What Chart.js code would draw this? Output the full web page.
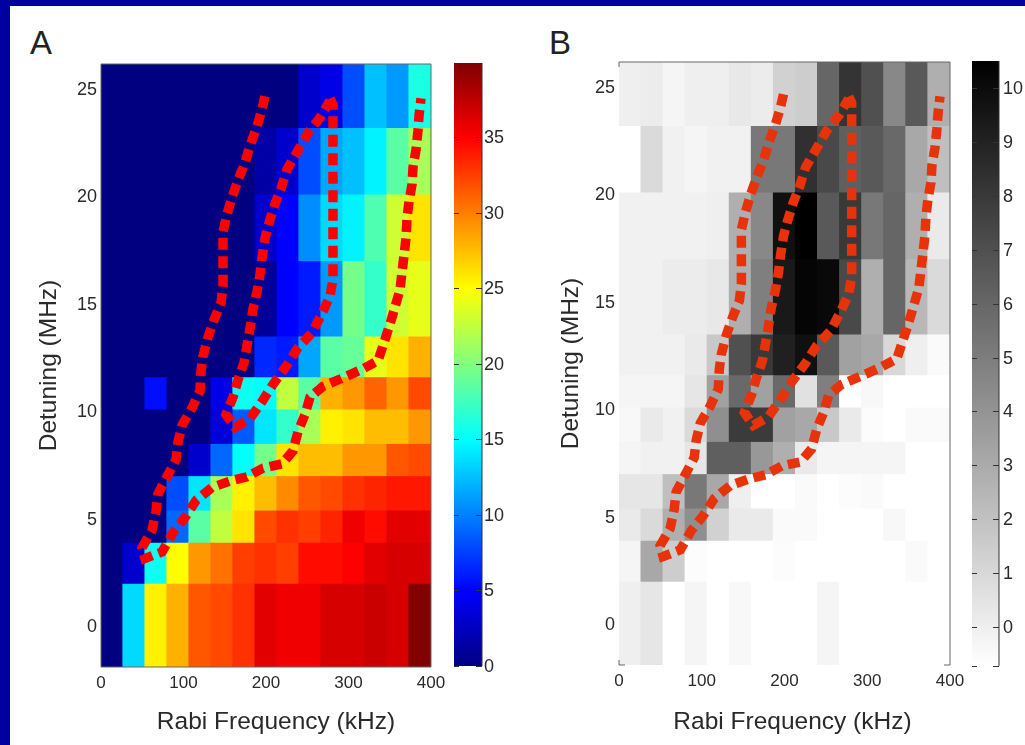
<!DOCTYPE html>
<html>
<head>
<meta charset="utf-8">
<title>Rabi Frequency vs Detuning</title>
<script src="https://cdn.jsdelivr.net/npm/chart.js@4/dist/chart.umd.min.js"></script>
<style>
  html, body { margin: 0; padding: 0; background: #0000a0; overflow: hidden; }
  #page { position: absolute; left: 10px; top: 6px; width: 1015px; height: 739px; background: #fff; }
  .box { position: absolute; }
  canvas { filter: blur(0.5px); }
  .panel-letter { position: absolute; font: 33px "Liberation Sans", Arial, sans-serif; color: #222; }
</style>
</head>
<body>
<div id="page"></div>
<div class="panel-letter" style="left:30px;top:24px">A</div>
<div class="panel-letter" style="left:549px;top:24px">B</div>
<div class="box" style="left:35px;top:50px;width:415px;height:695px"><canvas id="mapA"></canvas></div>
<div class="box" style="left:445px;top:50px;width:70px;height:695px"><canvas id="barA"></canvas></div>
<div class="box" style="left:557px;top:50px;width:411px;height:695px"><canvas id="mapB"></canvas></div>
<div class="box" style="left:965px;top:50px;width:60px;height:695px"><canvas id="barB"></canvas></div>
<script>
// column centres in kHz, 15 columns over 0-400
var rabiCentres = [13.3, 40, 66.7, 93.3, 120, 146.7, 173.3, 200, 226.7, 253.3, 280, 306.7, 333.3, 360, 386.7];
// row edges in MHz (rows are not evenly spaced)
var detuningEdges = [-1.95, 1.9, 3.8, 5.3, 6.9, 8.4, 10, 11.5, 13.4, 16.9, 20, 23.1, 26.1];

var rabiTicks = [0, 100, 200, 300, 400];
var detuningTicks = [0, 5, 10, 15, 20, 25];
var barTicksA = [0, 5, 10, 15, 20, 25, 30, 35];
var barTicksB = [-0.72, 0, 1, 2, 3, 4, 5, 6, 7, 8, 9, 10];

// panel A, bottom row first
var rowA0  = [0, 13.5, 25.5, 28, 31.5, 32, 33, 36, 35.5, 35.5, 36.5, 36.5, 37, 36.5, 39.8];
var rowA1  = [0, 3, 15.5, 25, 29, 30.5, 32.5, 33, 32.5, 34.5, 34.5, 35, 36, 36.5, 36.5];
var rowA2  = [0, 0, 0, 9, 18.5, 22.5, 26, 32, 33, 32.5, 33.5, 35.5, 34.5, 36, 36];
var rowA3  = [0, 0, 0, 8, 14, 21.5, 25.5, 27.5, 29.5, 31.5, 32, 33, 33.5, 34, 34];
var rowA4  = [0, 0, 0, 0, 3, 9, 15, 19.5, 26, 27.5, 27.5, 29, 29, 31.5, 32];
var rowA5  = [0, 0, 0, 0, 0, 3.5, 8.5, 14, 17, 21.5, 25.5, 26, 27.5, 27.5, 29];
var rowA6  = [0, 0, 5.5, 0, 0, 4, 15.5, 15, 22.5, 18.5, 28, 29, 31, 29, 32];
var rowA7  = [0, 0, 0, 0, 0, 0, 0, 6.5, 6, 11.5, 18.5, 19, 24, 26, 28];
var rowA8  = [0, 0, 0, 0, 0, 0, 0, 1, 5, 6, 11, 19.5, 17, 23, 24];
var rowA9  = [0, 0, 0, 0, 0, 0, 0, 3, 5, 10.5, 13.5, 14.5, 18, 23, 26];
var rowA10 = [0, 0, 0, 0, 0, 0, 0, 1.5, 3, 8, 11.5, 12.5, 14.5, 18.5, 21.5];
var rowA11 = [0, 0, 0, 0, 0, 0, 0, 0, 0, 3, 4, 8, 12.5, 11, 16];
var valuesA = [rowA0, rowA1, rowA2, rowA3, rowA4, rowA5, rowA6, rowA7, rowA8, rowA9, rowA10, rowA11];

// panel B, bottom row first
var rowB0  = [0, 0.4, -0.7, -0.3, -0.7, -0.4, -0.7, -0.7, -0.7, -0.3, -0.7, -0.7, -0.7, -0.7, -0.7];
var rowB1  = [-0.3, 3.1, 1.5, -0.6, -0.7, -0.7, -0.7, -0.6, -0.7, -0.7, -0.7, -0.7, -0.7, -0.5, -0.7];
var rowB2  = [0.2, 0.9, 2.8, 4.2, 1.3, 0.2, 0.2, -0.5, -0.5, -0.7, -0.7, -0.7, -0.4, -0.7, -0.7];
var rowB3  = [0.4, 0.4, 2.1, 5.2, 3.1, 0, -0.7, -0.7, -0.5, -0.7, -0.6, -0.5, -0.7, -0.7, -0.7];
var rowB4  = [-0.3, -0.1, -0.1, 0.4, 6.3, 6.3, 3.8, 2.8, 0.2, -0.3, -0.3, -0.3, -0.3, -0.7, -0.7];
var rowB5  = [-0.4, 0.2, -0.1, 0.9, 4.2, 7.9, 7.9, 3.4, 3.1, 1.7, 0.2, -0.6, -0.7, -0.5, -0.5];
var rowB6  = [-0.3, -0.3, -0.3, 0.4, 3.4, 5.9, 3.4, 5.9, 0.6, 4.9, -0.7, -0.4, -0.7, -0.7, -0.7];
var rowB7  = [-0.1, -0.1, -0.1, 0.2, 1.7, 7, 8, 9.1, 9.8, 6.6, 3.4, 3.1, 1, 0, -0.5];
var rowB8  = [-0.1, -0.1, 0.1, 0.1, 0.3, 2.8, 4.9, 9.4, 10.3, 10.1, 7.3, 2.8, 6, 2.4, 0.9];
var rowB9  = [-0.1, -0.1, -0.1, -0.1, 0, 2.8, 4.5, 9.8, 10.5, 6.6, 8, 5.2, 6, 2.8, 0.2];
var rowB10 = [-0.7, 0.9, -0.1, -0.3, -0.1, -0.1, 5.2, 5.2, 8.4, 7.3, 6.3, 6.6, 5.9, 3.1, 2.1];
var rowB11 = [0, 0.1, -0.3, 0, 0, 0.3, 0.1, 1.3, 1.5, 6, 8.2, 7, 4.5, 6.6, 2.8];
var valuesB = [rowB0, rowB1, rowB2, rowB3, rowB4, rowB5, rowB6, rowB7, rowB8, rowB9, rowB10, rowB11];

// dashed overlay traces, same in both panels
var outerRabi = [198.8, 195.2, 189.1, 180.6, 174.5, 166.1, 158.8, 152.7, 147.9, 147.9, 147.9, 147.9, 145.5, 137, 129.7, 123.6, 121.2, 120, 110.3, 98.2, 93.3, 90.9, 80, 69.1, 66.7, 61.8, 49.7, 53.3, 73.9, 87.3, 101.8, 115.2, 134.5, 156.4, 177, 196.4, 219.4, 232.7, 238.8, 247.3, 253.3, 269, 293.3, 316.4, 335.8, 341.8, 350.3, 356.4, 362.4, 364.8, 367.3, 369.7, 370.9, 373.3, 377, 378.2, 381.8, 384.2, 385.5, 387.9];
var outerDetuning = [24.6, 24, 23.2, 22.3, 21.5, 20.7, 19.9, 19.1, 18.3, 17.5, 16.6, 15.8, 15, 14.2, 13.4, 12.5, 11.8, 10.9, 10.1, 9.3, 8.5, 7.7, 6.9, 6.1, 5.3, 4.4, 3.6, 3.1, 3.4, 4.3, 5, 5.8, 6.4, 6.7, 6.9, 7.3, 7.5, 8.1, 9, 9.8, 10.6, 11.1, 11.5, 11.9, 12.3, 13, 14, 14.8, 15.6, 16.4, 17.2, 18, 18.9, 19.7, 20.5, 21.3, 22.1, 23, 23.7, 24.5];
var innerRabi = [277.6, 281.2, 281.2, 281.2, 281.2, 281.2, 281.2, 281.2, 281.2, 281.2, 281.2, 281.2, 277.6, 267.9, 255.8, 238.8, 225.5, 208.5, 195.2, 180.6, 162.4, 151.5, 160, 166.1, 173.3, 177, 180.6, 184.2, 189.1, 192.7, 195.2, 198.8, 203.6, 210.9, 218.2, 225.5, 237.6, 250.9, 265.5, 277.6];
var innerDetuning = [24.5, 24.2, 23.4, 22.6, 21.8, 21, 20.2, 19.3, 18.5, 17.7, 16.9, 16.1, 15.3, 14.5, 13.6, 12.9, 12.1, 11.2, 10.4, 9.6, 9.2, 9.8, 10.6, 11.4, 12.2, 13, 13.8, 14.7, 15.5, 16.3, 17.1, 18, 18.7, 19.6, 20.3, 21.2, 22, 22.9, 23.6, 24.4];

var FONT = '"Liberation Sans", Arial, sans-serif';
var TEXT = '#2a2a2a';
var MAX_A = 39.9;
var MIN_B = -0.72, MAX_B = 10.5;

function jet(v) {
  var t = Math.max(0, Math.min(1, v / MAX_A));
  function ch(c) { return Math.round(255 * Math.max(0, Math.min(1, 1.5 - Math.abs(4 * t - c)))); }
  return 'rgb(' + ch(3) + ',' + ch(2) + ',' + ch(1) + ')';
}

function grey(v) {
  var g = Math.round(255 * (MAX_B - v) / (MAX_B - MIN_B));
  g = Math.max(0, Math.min(255, g));
  return 'rgb(' + g + ',' + g + ',' + g + ')';
}

function toPoints(xs, ys) {
  return xs.map(function(x, i) { return { x: x, y: ys[i] }; });
}

function fixedTicks(list) {
  return function(scale) {
    scale.ticks = list.map(function(v) { return { value: v }; });
  };
}

// stop tick labels from pushing the plot area in
function fitScale(width, height) {
  return function(s) {
    if (width) s.width = width;
    if (height) s.height = height;
    s.paddingTop = s.paddingBottom = s.paddingLeft = s.paddingRight = 0;
  };
}

// thin frame round the plot (whole box for A, open sides and corner marks for B)
// and the x title, which sits a bit right of the plot centre in the original
function framePlugin(style, titleShift) {
  return {
    id: 'frame',
    afterDraw: function(chart) {
      var a = chart.chartArea, c = chart.ctx;
      c.save();
      c.strokeStyle = '#666';
      c.lineWidth = 1;
      c.beginPath();
      if (style === 'box') {
        c.rect(a.left, a.top, a.right - a.left, a.bottom - a.top);
      } else {
        c.moveTo(a.left, a.top + 5); c.lineTo(a.left, a.top); c.lineTo(a.right, a.top);
        c.lineTo(a.right, a.bottom); c.lineTo(a.right - 6, a.bottom);
        c.moveTo(a.left, a.bottom - 5); c.lineTo(a.left, a.bottom); c.lineTo(a.left + 6, a.bottom);
      }
      c.stroke();
      c.fillStyle = TEXT;
      c.font = '24.5px ' + FONT;
      c.textAlign = 'center';
      c.textBaseline = 'middle';
      c.fillText('Rabi Frequency (kHz)', (a.left + a.right) / 2 + titleShift, chart.height - 23);
      c.restore();
    }
  };
}

// short dashes on both inner edges of the colour ramp, line down its right side
var rampMarks = {
  id: 'rampMarks',
  afterDraw: function(chart) {
    var a = chart.chartArea, c = chart.ctx, y = chart.scales.y;
    c.save();
    c.strokeStyle = '#333';
    c.lineWidth = 1;
    c.beginPath();
    y.ticks.forEach(function(t) {
      var p = Math.round(y.getPixelForValue(t.value)) + 0.5;
      c.moveTo(a.left, p); c.lineTo(a.left + 5, p);
      c.moveTo(a.right - 6, p); c.lineTo(a.right, p);
    });
    c.moveTo(a.right, a.top); c.lineTo(a.right, a.bottom);
    c.stroke();
    c.restore();
  }
};

function makeHeatmap(id, rows, colorFn, lineColor, frame, pad, bottomSize, leftSize, titleShift) {
  var datasets = rows.map(function(row, r) {
    return {
      type: 'bar',
      order: 2,
      grouped: false,
      barPercentage: 1,
      categoryPercentage: 1,
      borderWidth: 0,
      inflateAmount: 0.6,
      backgroundColor: row.map(colorFn),
      data: row.map(function(v, i) {
        return { x: rabiCentres[i], y: [detuningEdges[r], detuningEdges[r + 1]] };
      })
    };
  });
  [[outerRabi, outerDetuning], [innerRabi, innerDetuning]].forEach(function(t) {
    datasets.push({
      type: 'line',
      order: 1,
      data: toPoints(t[0], t[1]),
      borderColor: lineColor,
      borderWidth: 9.5,
      borderDash: [12, 6.5],
      borderCapStyle: 'butt',
      borderJoinStyle: 'miter',
      pointRadius: 0,
      tension: 0,
      fill: false
    });
  });

  return new Chart(document.getElementById(id), {
    data: { datasets: datasets },
    plugins: [framePlugin(frame, titleShift)],
    options: {
      responsive: true,
      maintainAspectRatio: false,
      animation: false,
      layout: { padding: pad },
      plugins: { legend: { display: false }, tooltip: { enabled: false } },
      scales: {
        x: {
          type: 'linear',
          offset: false,
          min: 0,
          max: 400,
          afterBuildTicks: fixedTicks(rabiTicks),
          afterFit: fitScale(0, bottomSize),
          grid: { display: false, drawTicks: false },
          border: { display: false },
          ticks: { color: TEXT, font: { family: FONT, size: 17 }, maxRotation: 0, padding: 6 }
        },
        y: {
          type: 'linear',
          min: detuningEdges[0],
          max: detuningEdges[detuningEdges.length - 1],
          afterBuildTicks: fixedTicks(detuningTicks),
          afterFit: fitScale(leftSize, 0),
          grid: { display: false, drawTicks: false },
          border: { display: false },
          ticks: { color: TEXT, font: { family: FONT, size: 18 }, padding: 4, labelOffset: 2 },
          title: { display: true, text: 'Detuning (MHz)', color: TEXT, font: { family: FONT, size: 24.5 }, padding: 0 }
        }
      }
    }
  });
}

// colour ramp as a single floating bar with a gradient fill
function makeColorbar(id, lo, hi, ticks, stops, pad, labelWidth, labelPad, hideFirst) {
  return new Chart(document.getElementById(id), {
    type: 'bar',
    data: {
      labels: [''],
      datasets: [{
        data: [[lo, hi]],
        barPercentage: 1,
        categoryPercentage: 1,
        borderWidth: 0,
        backgroundColor: function(ctx) {
          var a = ctx.chart.chartArea;
          if (!a) return stops[0];
          var g = ctx.chart.ctx.createLinearGradient(0, a.bottom, 0, a.top);
          stops.forEach(function(s, i) { g.addColorStop(i / (stops.length - 1), s); });
          return g;
        }
      }]
    },
    plugins: [rampMarks],
    options: {
      responsive: true,
      maintainAspectRatio: false,
      animation: false,
      layout: { padding: pad },
      plugins: { legend: { display: false }, tooltip: { enabled: false } },
      scales: {
        x: { display: false },
        y: {
          position: 'right',
          min: lo,
          max: hi,
          afterBuildTicks: fixedTicks(ticks),
          afterFit: fitScale(labelWidth, 0),
          grid: { display: false, drawTicks: false },
          border: { display: false },
          ticks: {
            color: TEXT,
            font: { family: FONT, size: 18 },
            padding: labelPad,
            labelOffset: 1,
            callback: function(v) { return hideFirst && v < 0 ? '' : v; }
          }
        }
      }
    }
  });
}

var jetRamp = [];
for (var s = 0; s <= 40; s++) jetRamp.push(jet(MAX_A * s / 40));

makeHeatmap('mapA', valuesA, jet, '#ff0000', 'box', { top: 14, right: 19, left: 0, bottom: 0 }, 78, 66, 10);
makeColorbar('barA', 0, MAX_A, barTicksA, jetRamp, { top: 13, left: 9, right: 0, bottom: 79 }, 33, 2, false);
makeHeatmap('mapB', valuesB, grey, '#e8320a', 'open', { top: 12, right: 18, left: 0, bottom: 0 }, 80, 62, 8);
makeColorbar('barB', MIN_B, MAX_B, barTicksB, ['#ffffff', '#000000'], { top: 11, left: 7, right: 0, bottom: 79 }, 26, 4, true);
</script>
</body>
</html>
